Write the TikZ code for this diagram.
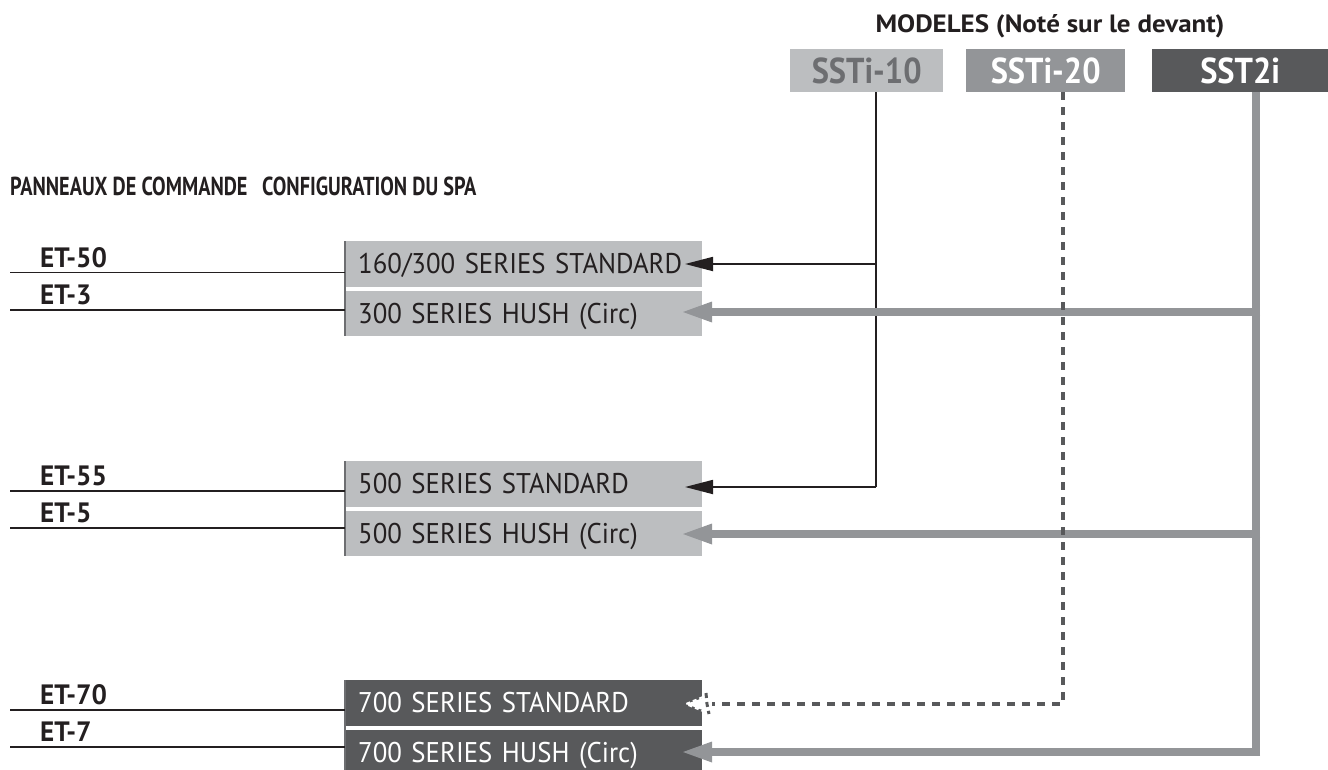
\documentclass[tikz,border=0pt]{standalone}
\usepackage{fontspec}
\setmainfont{PT Sans}[FakeStretch=0.94]
\newfontfamily\hdrfont{PT Sans}[FakeStretch=0.78]
\newfontfamily\etfont{PT Sans}[FakeStretch=0.97]
\newfontfamily\modfont{PT Sans}[FakeStretch=0.9]
\newfontfamily\titfont{PT Sans}[FakeStretch=1.08]
\usetikzlibrary{arrows.meta,calc}
\definecolor{lgray}{HTML}{BCBEC0}
\definecolor{mgray}{HTML}{939598}
\definecolor{dgray}{HTML}{58595B}
\definecolor{tgray}{HTML}{6D6E71}
\definecolor{ink}{HTML}{231F20}
\tikzset{
  cfgbox/.style={anchor=north west, inner sep=0pt, inner xsep=13pt, minimum height=45.5pt,
    text width=331pt, align=left, text height=20pt, text depth=0pt,
    font=\fontsize{28.5}{30}\selectfont},
  lightbox/.style={cfgbox, fill=lgray, text=ink},
  darkbox/.style={cfgbox, fill=dgray, text=white},
  modelbox/.style={anchor=north west, inner sep=0pt, minimum height=43pt,
    text height=25pt, text depth=0pt,
    font=\modfont\bfseries\fontsize{36}{38}\selectfont},
  etlabel/.style={anchor=base west, inner sep=0pt, font=\etfont\bfseries\fontsize{28}{30}\selectfont, text=ink},
  header/.style={anchor=base west, inner sep=0pt, font=\hdrfont\bfseries\fontsize{26}{28}\selectfont, text=ink},
  etline/.style={draw=ink, line width=1.3pt},
  edgeline/.style={draw=tgray, line width=2.2pt},
  blackconn/.style={draw=ink, line width=1.8pt, -{Triangle[length=28pt,width=14pt]}},
  blackplain/.style={draw=ink, line width=1.8pt},
  grayconn/.style={draw=mgray, line width=8pt, -{Triangle[length=32pt,width=18pt]}},
  grayplain/.style={draw=mgray, line width=8pt},
  dashconn/.style={draw=dgray, line width=3.5pt, dash pattern=on 8pt off 7pt},
}
\begin{document}
\begin{tikzpicture}[x=1pt,y=-1pt]
\useasboundingbox (0,0) rectangle (1328,769);
\clip (0,0) rectangle (1328,769);

% title and model boxes
\node[anchor=base, inner sep=0pt, font=\titfont\bfseries\fontsize{25}{27}\selectfont, text=ink] (title) at (1050,32) {MODELES (Noté sur le devant)};
\node[modelbox, fill=lgray, text=tgray, minimum width=153pt] (m10) at (790,49) {SSTi-10};
\node[modelbox, fill=mgray, text=white, minimum width=159pt] (m20) at (966,49) {SSTi-20};
\node[modelbox, fill=dgray, text=white, minimum width=176pt] (m2i) at (1152,49) {SST2i};

% headers
\node[header] (hpan) at (10,195) {PANNEAUX DE COMMANDE};
\node[header] (hcfg) at (262,195) {CONFIGURATION DU SPA};

% configuration boxes
\node[lightbox] (b1) at (345,241) {160/300 SERIES STANDARD};
\node[lightbox] (b2) at (345,290.5) {300 SERIES HUSH (Circ)};
\node[lightbox] (b3) at (345,461) {500 SERIES STANDARD};
\node[lightbox] (b4) at (345,510.5) {500 SERIES HUSH (Circ)};
\node[darkbox] (b5) at (345,680) {700 SERIES STANDARD};
\node[darkbox] (b6) at (345,730) {700 SERIES HUSH (Circ)};

\draw[edgeline] (b1.north west) -- (b2.south west);
\draw[edgeline] (b3.north west) -- (b4.south west);
\draw[edgeline] (b5.north west) -- (b6.south west);

% control panel labels and lines
\node[etlabel] (e50) at (40,267) {ET-50};
\node[etlabel] (e3) at (40,304.5) {ET-3};
\node[etlabel] (e55) at (40,485.5) {ET-55};
\node[etlabel] (e5) at (40,522.5) {ET-5};
\node[etlabel] (e70) at (40,704.5) {ET-70};
\node[etlabel] (e7) at (40,741.5) {ET-7};

\coordinate (l50) at (10,272.5);
\coordinate (l3) at (10,310);
\coordinate (l55) at (10,491);
\coordinate (l5) at (10,528);
\coordinate (l70) at (10,710);
\coordinate (l7) at (10,747);
\draw[etline] (l50) -- (l50 -| b1.west);
\draw[etline] (l3) -- (l3 -| b2.west);
\draw[etline] (l55) -- (l55 -| b3.west);
\draw[etline] (l5) -- (l5 -| b4.west);
\draw[etline] (l70) -- (l70 -| b5.west);
\draw[etline] (l7) -- (l7 -| b6.west);

% SSTi-10 connectors
\coordinate (j1) at (876,264);
\coordinate (j3) at (876,487);
\coordinate (t1) at (685,264);
\coordinate (t3) at (685,487);
\draw[blackplain] (m10.south -| j1) -- (j3);
\draw[blackconn] (j1) -- (t1);
\draw[blackconn] (j3) -- (t3);

% SST2i connectors
\coordinate (g2) at (1256,312);
\coordinate (g4) at (1256,534);
\coordinate (g6) at (1256,752);
\draw[grayplain] (m2i.south -| g2) -- ([yshift=4pt]g6);
\draw[grayconn] ([xshift=4pt]g2) -- (680,312);
\draw[grayconn] ([xshift=4pt]g4) -- (680,534);
\draw[grayconn] ([xshift=4pt]g6) -- (680,752);

% SSTi-20 dashed connector
\coordinate (d5) at (1063,704);
\coordinate (dt) at (686,704);
\draw[dashconn] (m20.south -| d5) -- (d5) -- (712,704);
\fill[white] (dt) -- (703,698) -- (703,710) -- cycle;
\draw[draw=dgray, line width=3pt, dash pattern=on 5pt off 4pt] (706,693) -- (707,704) -- (709,714);
\draw[draw=white, line width=2pt, dash pattern=on 4pt off 3pt] (703,697) -- (dt) -- (703,711);
\end{tikzpicture}
\end{document}
